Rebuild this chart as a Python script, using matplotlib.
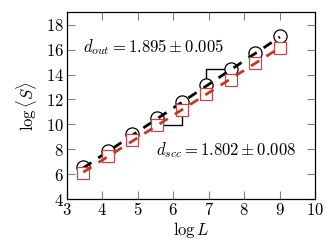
import numpy as np
import matplotlib
matplotlib.use('Agg')
import matplotlib.pyplot as plt
from matplotlib.ticker import FuncFormatter

plt.rcParams['mathtext.fontset'] = 'cm'
plt.rcParams['font.family'] = 'serif'
plt.rcParams['font.serif'] = ['DejaVu Serif']

# system sizes L = 32 ... 8192, plotted as natural log
logL = np.log([32, 64, 128, 256, 512, 1024, 2048, 4096, 8192])
S_out = [6.6, 7.87, 9.2, 10.5, 11.8, 13.13, 14.42, 15.75, 17.06]
S_scc = [6.14, 7.45, 8.73, 9.95, 11.16, 12.47, 13.6, 14.95, 16.15]

d_out, d_out_err, b_out = 1.895, 0.005, -0.06
d_scc, d_scc_err, b_scc = 1.802, 0.008, -0.08

red = '#c0392b'

fig = plt.figure(figsize=(3.32, 2.49), dpi=100)
ax = fig.add_axes([0.201, 0.2, 0.748, 0.751])

# thin step guides
ax.step(logL[3:5], S_scc[3:5], where='post', color='black', lw=1.0, zorder=1)
ax.step(logL[5:7], S_out[5:7], where='pre', color='black', lw=1.0, zorder=1)

ax.plot(logL, S_out, 'o', ms=9.5, mfc='white', mec='black', mew=0.9, zorder=2)
xfit = np.array([logL[0], logL[-1]])
ax.plot(xfit, d_out * xfit + b_out, color='black', lw=2.0, dashes=(3.5, 3.0), zorder=3)
ax.plot(logL, S_scc, 's', ms=8, mfc='white', mec='#c84646', mew=0.9, zorder=4)
ax.plot(xfit, d_scc * xfit + b_scc, color=red, lw=2.0, dashes=(3.5, 3.0), zorder=5)

ax.text(3.45, 16.2, r'$d_{out} = %.3f \pm %.3f$' % (d_out, d_out_err), fontsize=12, va='center')
ax.text(5.52, 7.9, r'$d_{scc} = %.3f \pm %.3f$' % (d_scc, d_scc_err), fontsize=12, va='center')

ax.set_xlim(3, 10)
ax.set_ylim(4, 19)
ax.set_xticks(range(3, 11))
ax.set_yticks(range(4, 19, 2))
fmt = FuncFormatter(lambda v, p: r'$%d$' % v)
ax.xaxis.set_major_formatter(fmt)
ax.yaxis.set_major_formatter(fmt)
ax.tick_params(direction='in', top=True, right=True, length=6, width=0.8,
               color='#808080', labelsize=12, pad=2)
for s in ax.spines.values():
    s.set_linewidth(0.9)

ax.set_xlabel(r'$\log L$', fontsize=12, labelpad=1)
ax.set_ylabel(r'$\log \langle S \rangle$', fontsize=12, labelpad=5)

fig.savefig('out.png', dpi=100)
